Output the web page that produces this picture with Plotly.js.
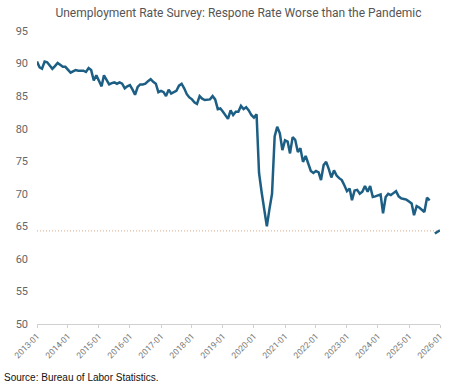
<!DOCTYPE html>
<html>
<head>
<meta charset="utf-8">
<script src="https://cdn.plot.ly/plotly-3.0.1.min.js"></script>
<style>
  html, body { margin: 0; padding: 0; background: #fff; }
  #chart { width: 455px; height: 386px; }
</style>
</head>
<body>
<div id="chart"></div>
<script>
// CPS household response rate (%), monthly
const startYear = 2013;
const r2013 = [90.3, 89.4, 89.2, 90.3, 90.2, 89.6, 89.2, 89.6, 90.1, 89.8, 89.5, 89.5];
const r2014 = [89.1, 88.6, 88.8, 89.0, 88.9, 88.9, 88.9, 88.7, 89.3, 89.0, 87.4, 88.2];
const r2015 = [87.2, 86.5, 88.2, 87.5, 86.8, 87.0, 87.1, 86.9, 87.1, 86.9, 86.2, 86.5];
const r2016 = [86.7, 86.0, 85.2, 86.4, 86.8, 86.8, 86.9, 87.3, 87.6, 87.2, 86.9, 85.6];
const r2017 = [85.8, 85.6, 85.0, 86.0, 85.4, 85.6, 85.8, 86.6, 86.9, 86.2, 85.3, 84.8];
const r2018 = [84.5, 84.0, 83.8, 85.0, 84.6, 84.4, 84.4, 84.5, 85.0, 84.5, 83.0, 83.1];
const r2019 = [82.6, 82.0, 81.5, 82.8, 82.1, 82.6, 82.6, 83.5, 83.0, 83.3, 82.8, 82.1];
const r2020 = [81.7, 82.2, 73.2, 70.2, 67.5, 65.0, 67.6, 70.0, 78.8, 80.3, 79.3, 76.7];
const r2021 = [78.2, 78.0, 76.2, 78.7, 78.3, 76.4, 77.0, 74.9, 75.8, 74.5, 73.5, 73.2];
const r2022 = [73.5, 73.3, 72.1, 74.4, 74.9, 73.8, 72.5, 73.6, 72.8, 72.4, 72.1, 71.3];
const r2023 = [70.4, 70.8, 69.0, 70.5, 70.6, 70.0, 70.3, 71.2, 70.3, 71.2, 69.5, 69.6];
const r2024 = [69.7, 69.9, 67.0, 69.5, 70.0, 69.8, 70.1, 70.4, 69.6, 69.3, 69.2, 69.1];
const r2025 = [68.8, 68.5, 66.7, 68.1, 67.9, 67.5, 67.2, 69.4, 69.0, null, 63.9, 64.1];
const r2026 = [64.4];

const latestRef = 64.3;   // dotted reference level
const refStart = '2013-01-01';
const refEnd = '2025-12-01';

const tickVals = ['2013-01-01','2014-01-01','2015-01-01','2016-01-01','2017-01-01','2018-01-01','2019-01-01',
                  '2020-01-01','2021-01-01','2022-01-01','2023-01-01','2024-01-01','2025-01-01','2026-01-01'];
const tickText = ['2013-01','2014-01','2015-01','2016-01','2017-01','2018-01','2019-01',
                  '2020-01','2021-01','2022-01','2023-01','2024-01','2025-01','2026-01'];

const titleText = 'Unemployment Rate Survey: Respone Rate Worse than the Pandemic';
const sourceText = 'Source: Bureau of Labor Statistics.';

const years = [r2013, r2014, r2015, r2016, r2017, r2018, r2019, r2020, r2021, r2022, r2023, r2024, r2025, r2026];
const xs = [], ys = [];
years.forEach((arr, i) => {
  arr.forEach((v, m) => {
    const mm = String(m + 1).padStart(2, '0');
    xs.push((startYear + i) + '-' + mm + '-01');
    ys.push(v);
  });
});

const traces = [
  {
    x: [refStart, refEnd], y: [latestRef, latestRef],
    type: 'scatter', mode: 'lines',
    line: { color: '#dba882', width: 1, dash: '1px,2px' },
    hoverinfo: 'skip', showlegend: false
  },
  {
    x: xs, y: ys, type: 'scatter', mode: 'lines',
    line: { color: '#1d5f84', width: 2.5 },
    connectgaps: false, showlegend: false
  }
];

const layout = {
  width: 455, height: 386,
  margin: { l: 37, r: 15, t: 31, b: 62 },
  paper_bgcolor: '#fff', plot_bgcolor: '#fff',
  font: { family: 'Roboto, Arial, sans-serif', color: '#555' },
  title: {
    text: titleText, x: 0.5, xanchor: 'center', xref: 'paper',
    y: 0.968, yref: 'container', yanchor: 'middle',
    font: { size: 12, color: '#555', family: 'Roboto, Arial, sans-serif' }
  },
  xaxis: {
    type: 'date',
    range: ['2013-01-01', '2026-01-01'],
    tickvals: tickVals, ticktext: tickText,
    tickangle: -45,
    tickfont: { size: 8.5, color: '#777' },
    showgrid: false, zeroline: false,
    showline: true, linecolor: '#d0d0d0', linewidth: 1,
    ticks: 'outside', ticklen: 3, tickcolor: '#d0d0d0'
  },
  yaxis: {
    range: [50, 95],
    tickvals: [50, 55, 60, 65, 70, 75, 80, 85, 90, 95],
    tickfont: { size: 11, color: '#666' },
    showgrid: false, zeroline: false, showline: false,
    ticks: '', ticklabelstandoff: 8
  },
  annotations: [{
    text: sourceText, xref: 'paper', yref: 'paper',
    x: -35/403, xanchor: 'left', y: -0.181, yanchor: 'middle',
    showarrow: false, font: { size: 10, color: '#111', family: 'Liberation Sans, Arial, sans-serif' }
  }]
};

Plotly.newPlot('chart', traces, layout, { displayModeBar: false, staticPlot: true });
</script>
</body>
</html>
